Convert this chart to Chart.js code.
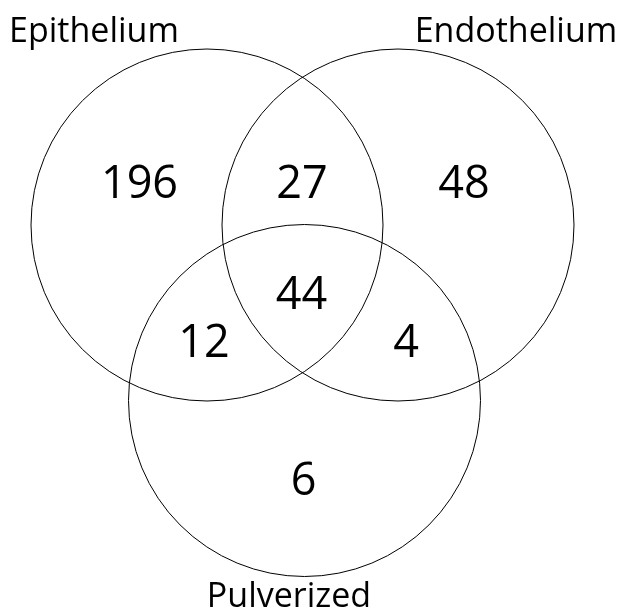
<!DOCTYPE html>
<html lang="en">
<head>
    <meta charset="UTF-8">
    <title>Venn Diagram</title>
    <script src="https://cdn.jsdelivr.net/npm/chart.js"></script>
    <style>
        body { margin: 0; background: #fff; }
    </style>
</head>
<body>
    <canvas id="venn" width="623" height="609"></canvas>

    <script>
        // Data
        const setNames = ['Epithelium', 'Endothelium', 'Pulverized'];
        const regionNames = ['Epithelium only', 'Epithelium + Endothelium', 'Endothelium only',
                             'All three', 'Epithelium + Pulverized', 'Endothelium + Pulverized', 'Pulverized only'];
        const regionCounts = [196, 27, 48, 44, 12, 4, 6];

        // Layout (axis units = page pixels)
        const circleCenters = [[207, 225], [398, 225], [304.5, 400.5]];
        const circleRadius = 176;
        const setLabelAnchors = [[94, 42], [516, 42], [289, 607]];
        const regionAnchors = [[139.5, 198], [302, 198], [464, 198], [301.5, 309], [204, 357], [406, 357], [303.5, 495]];

        const FONT = '"Open Sans", sans-serif';

        // draws text labels at data positions through the scales
        const textPlugin = {
            id: 'vennText',
            afterDatasetsDraw(chart) {
                const ctx = chart.ctx;
                const xs = chart.scales.x, ys = chart.scales.y;
                ctx.save();
                ctx.fillStyle = '#000';
                ctx.textAlign = 'center';
                ctx.textBaseline = 'alphabetic';
                ctx.font = '34px ' + FONT;
                setNames.forEach((name, i) => {
                    ctx.fillText(name, xs.getPixelForValue(setLabelAnchors[i][0]), ys.getPixelForValue(setLabelAnchors[i][1]));
                });
                ctx.font = '45px ' + FONT;
                regionCounts.forEach((n, i) => {
                    ctx.fillText(String(n), xs.getPixelForValue(regionAnchors[i][0]), ys.getPixelForValue(regionAnchors[i][1]));
                });
                ctx.restore();
            }
        };

        const ctx = document.getElementById('venn').getContext('2d');
        new Chart(ctx, {
            type: 'bubble',
            data: {
                datasets: setNames.map((name, i) => ({
                    label: name,
                    data: [{ x: circleCenters[i][0], y: circleCenters[i][1], r: circleRadius }],
                    backgroundColor: 'rgba(0,0,0,0)',
                    borderColor: '#000',
                    borderWidth: 1,
                    clip: false
                }))
            },
            options: {
                responsive: false,
                animation: false,
                events: [],
                layout: { padding: 0, autoPadding: false },
                plugins: {
                    legend: { display: false },
                    tooltip: { enabled: false }
                },
                scales: {
                    x: { type: 'linear', min: 0, max: 623, display: false },
                    y: { type: 'linear', min: 0, max: 609, reverse: true, display: false }
                }
            },
            plugins: [textPlugin]
        });
    </script>
</body>
</html>
